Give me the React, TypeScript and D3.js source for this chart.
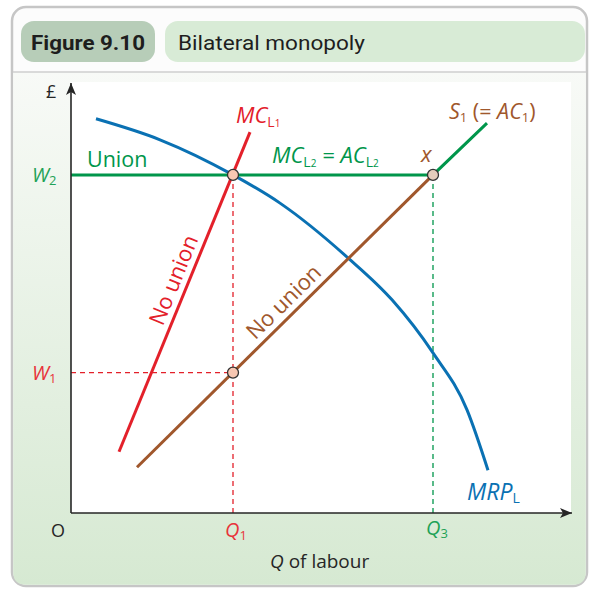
import React from "react";
import * as d3 from "d3";

// quantities of labour (0-100) and wage (£, 0-100)
const mrpQ = [5, 17.8, 32.4, 41.8, 55.4, 64.2, 72.4, 79.2, 83.4];
const mrpP = [92.1, 87.2, 79.0, 72.4, 59.6, 49.8, 37.4, 24.1, 10.0];

const mcL1Q = [9.6, 35.8];
const mcL1P = [14.3, 89.0];

const s1Q = [13.2, 72.4];
const s1P = [10.7, 79.0];

const unionQ = [0, 72.4, 83.2];
const unionP = [79.0, 79.0, 91.1];

const Q1 = 32.4;
const Q3 = 72.4;
const W1 = 32.8;
const W2 = 79.0;

const RED = "#e3202a";
const GREEN = "#00964b";
const BLUE = "#0a71b3";
const BROWN = "#a0572c";
const INK = "#262626";
const FONT = "'Open Sans', 'Noto Sans', sans-serif";

const xScale = d3.scaleLinear().domain([0, 100]).range([71, 571]);
const yScale = d3.scaleLinear().domain([0, 100]).range([513, 85]);

const toPts = (qs: number[], ps: number[]) => qs.map((q, i) => [q, ps[i]] as [number, number]);

const straight = d3.line<[number, number]>().x(d => xScale(d[0])).y(d => yScale(d[1]));
const smooth = d3.line<[number, number]>().x(d => xScale(d[0])).y(d => yScale(d[1])).curve(d3.curveMonotoneX);

// text running along a straight line, sitting just above it
function alongLine(qs: number[], ps: number[], t: number, label: string, color: string) {
  const x0 = xScale(qs[0]), y0 = yScale(ps[0]);
  const x1 = xScale(qs[qs.length - 1]), y1 = yScale(ps[ps.length - 1]);
  const ang = (Math.atan2(y1 - y0, x1 - x0) * 180) / Math.PI;
  const cx = x0 + (x1 - x0) * t, cy = y0 + (y1 - y0) * t;
  return (
    <text transform={`translate(${cx},${cy}) rotate(${ang})`} y={-7} textAnchor="middle"
      fill={color} fontSize={22} fontFamily={FONT}>{label}</text>
  );
}

export default function App() {
  const dot = (q: number, p: number, fill: string) => (
    <circle cx={xScale(q)} cy={yScale(p)} r={5.5} fill={fill} stroke="#333" strokeWidth={1.3} />
  );
  return (
    <svg width={593} height={589} style={{ position: "absolute", left: 0, top: 0 }}>
      <defs>
        <linearGradient id="bodyGrad" x1="0" y1="0" x2="0" y2="1">
          <stop offset="0" stopColor="#f8faf7" />
          <stop offset="1" stopColor="#d6e9d2" />
        </linearGradient>
        <marker id="arrow" viewBox="0 0 12 10" refX="12" refY="5" markerWidth="12" markerHeight="10"
          markerUnits="userSpaceOnUse" orient="auto">
          <path d="M0,0 L12,5 L0,10 L3,5 Z" fill={INK} />
        </marker>
      </defs>

      {/* frame and header */}
      <rect x={12} y={7} width={575} height={579} rx={14} fill="#fcfcfc" stroke="#c6c6c6" strokeWidth={2.5} />
      <path d="M13.2,72 H585.8 V572 Q585.8,584.8 573,584.8 H26 Q13.2,584.8 13.2,572 Z" fill="url(#bodyGrad)" />
      <line x1={13} x2={586} y1={72} y2={72} stroke="#cfcfcf" strokeWidth={1.5} />
      <rect x={21} y={21} width={134} height={41} rx={13} fill="#b7cdb8" />
      <rect x={165} y={21} width={420} height={41} rx={13} fill="#d8ebd6" />
      <text x={31} y={50} fontFamily="Roboto, sans-serif" fontWeight="bold" fontSize={21} fill="#1e1e1e"
        textLength={114} lengthAdjust="spacingAndGlyphs">Figure 9.10</text>
      <text x={178} y={50} fontFamily="Roboto, sans-serif" fontSize={21} fill="#1e1e1e"
        textLength={187} lengthAdjust="spacingAndGlyphs">Bilateral monopoly</text>

      {/* plot area */}
      <rect x={xScale(0)} y={82} width={xScale(100) - xScale(0)} height={yScale(0) - 82} fill="#ffffff" />

      {/* dashed guides */}
      <line x1={xScale(Q1)} x2={xScale(Q1)} y1={yScale(0)} y2={yScale(W2)} stroke={RED} strokeWidth={1.3} strokeDasharray="5,4" />
      <line x1={xScale(0)} x2={xScale(Q1)} y1={yScale(W1)} y2={yScale(W1)} stroke={RED} strokeWidth={1.3} strokeDasharray="5,4" />
      <line x1={xScale(Q3)} x2={xScale(Q3)} y1={yScale(0)} y2={yScale(W2)} stroke={GREEN} strokeWidth={1.3} strokeDasharray="5,4" />

      {/* curves */}
      <path d={smooth(toPts(mrpQ, mrpP)) || ""} fill="none" stroke={BLUE} strokeWidth={3} />
      <path d={straight(toPts(s1Q, s1P)) || ""} fill="none" stroke={BROWN} strokeWidth={3} />
      <path d={straight(toPts(mcL1Q, mcL1P)) || ""} fill="none" stroke={RED} strokeWidth={3} />
      <path d={straight(toPts(unionQ, unionP)) || ""} fill="none" stroke={GREEN} strokeWidth={3} />

      {/* axes */}
      <line x1={xScale(0)} y1={yScale(0)} x2={xScale(0)} y2={83} stroke={INK} strokeWidth={1.6} markerEnd="url(#arrow)" />
      <line x1={xScale(0)} y1={yScale(0)} x2={572} y2={yScale(0)} stroke={INK} strokeWidth={1.6} markerEnd="url(#arrow)" />

      {/* points */}
      {dot(Q1, W2, "#f7c7b2")}
      {dot(Q1, W1, "#f7c7b2")}
      {dot(Q3, W2, "#e5cdbc")}

      {/* curve labels */}
      {alongLine(mcL1Q, mcL1P, 0.52, "No union", RED)}
      {alongLine(s1Q, s1P, 0.53, "No union", BROWN)}

      <g fontFamily={FONT}>
        <text x={87} y={167} fontSize={21.5} fill={GREEN}>Union</text>
        <text x={236} y={123} fontSize={22} fill={RED} fontStyle="italic">MC<tspan fontStyle="normal" fontSize={14} dy={4}>L</tspan><tspan fontStyle="normal" fontSize={10}>1</tspan></text>
        <text x={272} y={163} fontSize={22} fill={GREEN} fontStyle="italic">MC<tspan fontStyle="normal" fontSize={14} dy={4}>L</tspan><tspan fontStyle="normal" fontSize={10}>2</tspan><tspan dy={-4}> = </tspan>AC<tspan fontStyle="normal" fontSize={14} dy={4}>L</tspan><tspan fontStyle="normal" fontSize={10}>2</tspan></text>
        <text x={421} y={162} fontSize={22} fill={BROWN} fontStyle="italic">x</text>
        <text x={449} y={119} fontSize={21.5} fill={BROWN} fontStyle="italic">S<tspan fontStyle="normal" fontSize={13} dy={3}>1</tspan><tspan fontStyle="normal" dy={-3}> (= </tspan>AC<tspan fontStyle="normal" fontSize={13} dy={3}>1</tspan><tspan fontStyle="normal" dy={-3}>)</tspan></text>
        <text x={467} y={500} fontSize={23} fill={BLUE} fontStyle="italic">MRP<tspan fontStyle="normal" fontSize={14} dy={3}>L</tspan></text>

        {/* axis labels */}
        <text x={46} y={98} fontSize={18} fill={INK}>£</text>
        <text x={51} y={537} fontSize={18} fill={INK}>O</text>
        <text x={32} y={yScale(W2) + 7} fontSize={20} fill="#1fa257" fontStyle="italic">W<tspan fontStyle="normal" fontSize={13} dy={3}>2</tspan></text>
        <text x={32} y={yScale(W1) + 7} fontSize={20} fill="#e8333a" fontStyle="italic">W<tspan fontStyle="normal" fontSize={13} dy={3}>1</tspan></text>
        <text x={xScale(Q1) - 8} y={537} fontSize={20} fill="#e8333a" fontStyle="italic">Q<tspan fontStyle="normal" fontSize={13} dy={3}>1</tspan></text>
        <text x={xScale(Q3) - 7} y={535} fontSize={20} fill="#1fa257" fontStyle="italic">Q<tspan fontStyle="normal" fontSize={13} dy={3}>3</tspan></text>
        <text x={270} y={568} fontSize={19} fill={INK}><tspan fontStyle="italic">Q</tspan> of labour</text>
      </g>
    </svg>
  );
}
